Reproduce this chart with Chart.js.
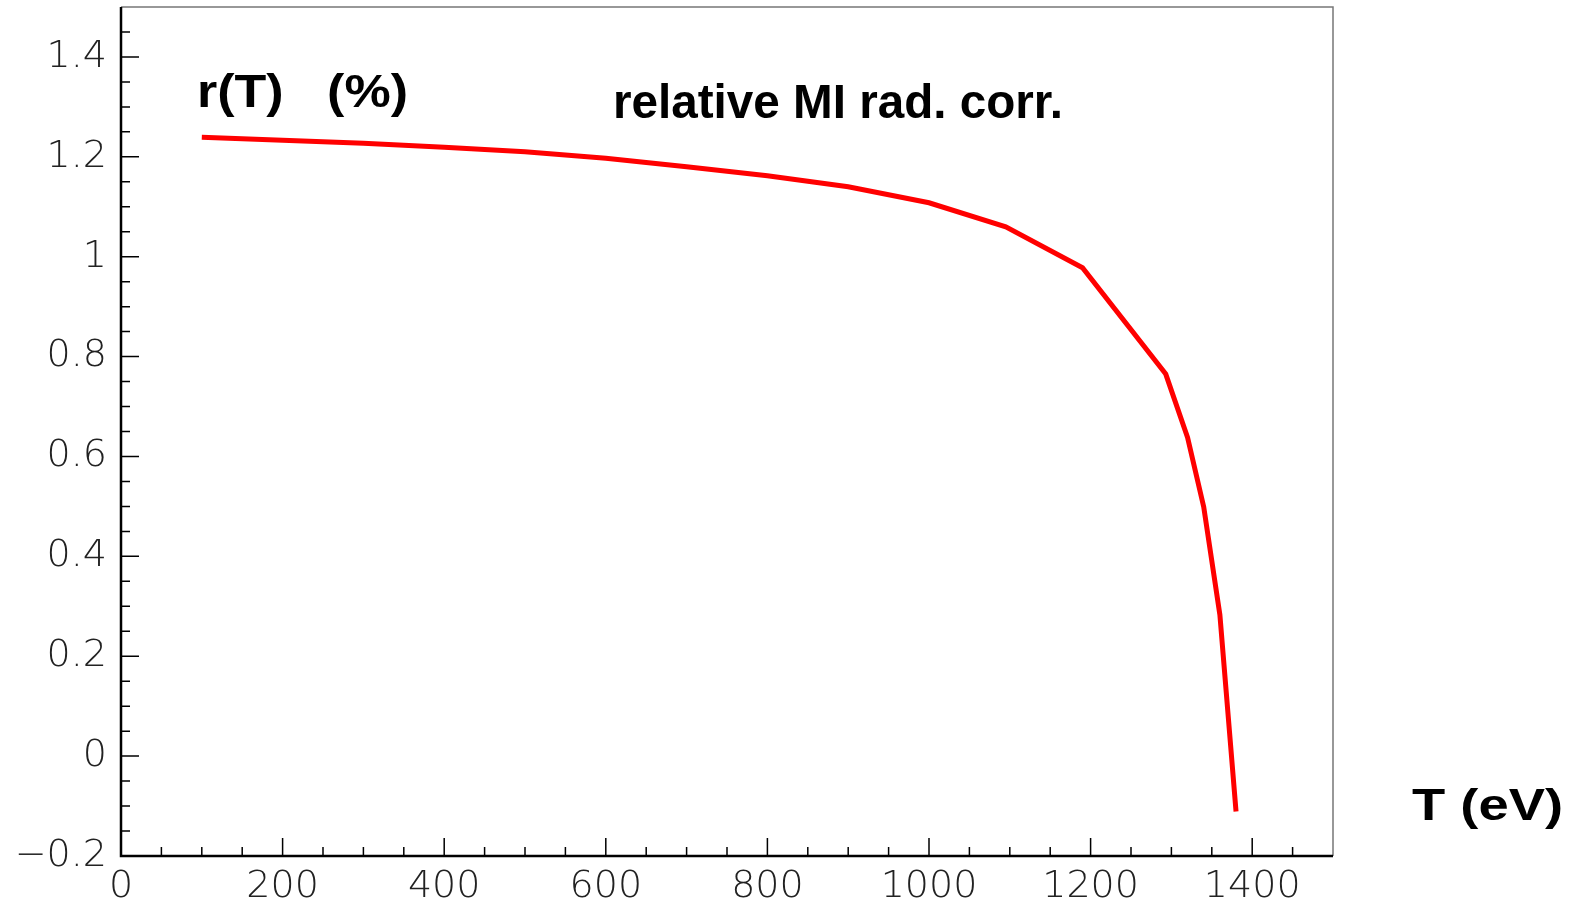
<!DOCTYPE html>
<html>
<head>
<meta charset="utf-8">
<script src="https://cdn.jsdelivr.net/npm/chart.js@4/dist/chart.umd.min.js"></script>
<style>
  html, body { margin: 0; padding: 0; background: #fff; }
  canvas { display: block; }
</style>
</head>
<body>
<canvas id="rc" width="1575" height="900"></canvas>
<script>
// kinetic energy T (eV) and relative radiative correction r(T) (%)
var tValues = [100, 200, 300, 400, 500, 600, 700, 800, 900, 1000, 1095, 1190, 1293, 1320, 1340, 1360, 1380];
var rValues = [1.239, 1.233, 1.227, 1.219, 1.210, 1.197, 1.180, 1.162, 1.140, 1.108, 1.060, 0.978, 0.765, 0.638, 0.499, 0.283, -0.111];

var xLabelEvery = 200;   // labelled x ticks
var yLabelEvery = 0.2;   // labelled y ticks
var yTitle = 'r(T)   (%)';
var xTitle = 'T (eV)';
var plotNote = 'relative MI rad. corr.';

function onStep(v, step) {
    var q = v / step;
    return Math.abs(q - Math.round(q)) < 1e-6;
}

// ROOT style: ticks pointing into the frame, grey top/right edges
var frame = {
    id: 'frame',
    afterDraw: function(chart) {
        var ctx = chart.ctx, a = chart.chartArea;
        var xs = chart.scales.x, ys = chart.scales.y;
        ctx.save();
        ctx.strokeStyle = '#777';
        ctx.lineWidth = 1.5;
        ctx.beginPath();
        ctx.moveTo(a.left, a.top); ctx.lineTo(a.right, a.top); ctx.lineTo(a.right, a.bottom);
        ctx.stroke();

        ctx.strokeStyle = '#000';
        ctx.lineWidth = 1.5;
        ctx.beginPath();
        xs.ticks.forEach(function(t) {
            var px = xs.getPixelForValue(t.value);
            if (px <= a.left + 1 || px >= a.right - 1) return;
            var len = onStep(t.value, xLabelEvery) ? 18 : 9;
            ctx.moveTo(px, a.bottom); ctx.lineTo(px, a.bottom - len);
        });
        ys.ticks.forEach(function(t) {
            var py = ys.getPixelForValue(t.value);
            if (py >= a.bottom - 1 || py <= a.top + 1) return;
            var len = onStep(t.value, yLabelEvery) ? 18 : 9;
            ctx.moveTo(a.left, py); ctx.lineTo(a.left + len, py);
        });
        ctx.stroke();

        ctx.lineWidth = 2.5;
        ctx.beginPath();
        ctx.moveTo(a.left, a.top); ctx.lineTo(a.left, a.bottom); ctx.lineTo(a.right, a.bottom);
        ctx.stroke();
        ctx.restore();
    }
};

// bold captions, stretched sideways like the original picture
function wideText(ctx, txt, x, base, size, width) {
    ctx.font = 'bold ' + size + 'px "Liberation Sans", Arial, sans-serif';
    var w = ctx.measureText(txt).width;
    ctx.save();
    ctx.translate(x, base);
    ctx.scale(width / w, 1);
    ctx.fillStyle = '#000';
    ctx.textBaseline = 'alphabetic';
    ctx.fillText(txt, 0, 0);
    ctx.restore();
}

var captions = {
    id: 'captions',
    afterDraw: function(chart) {
        var ctx = chart.ctx;
        wideText(ctx, yTitle, 197, 107, 46, 211);
        wideText(ctx, plotNote, 613, 118, 48, 450);
        wideText(ctx, xTitle, 1412, 820, 44, 151);
    }
};

new Chart(document.getElementById('rc'), {
    type: 'scatter',
    data: {
        datasets: [{
            data: tValues.map(function(t, i) { return { x: t, y: rValues[i] }; }),
            showLine: true,
            borderColor: '#ff0000',
            borderWidth: 5,
            pointRadius: 0,
            fill: false
        }]
    },
    options: {
        responsive: false,
        animation: false,
        layout: { padding: { top: 7, right: 242, left: 0, bottom: 0 } },
        plugins: { legend: { display: false }, tooltip: { enabled: false } },
        scales: {
            x: {
                type: 'linear', min: 0, max: 1500,
                grid: { display: false, drawTicks: false },
                border: { display: false },
                afterFit: function(s) { s.height = 44; s.paddingLeft = 0; s.paddingRight = 0; },
                ticks: {
                    stepSize: 50, autoSkip: false, maxRotation: 0, padding: 8,
                    color: '#222',
                    font: { family: '"DejaVu Sans", sans-serif', size: 38, weight: 200 },
                    callback: function(v) { return onStep(v, xLabelEvery) ? String(v) : ''; }
                }
            },
            y: {
                min: -0.2, max: 1.5,
                grid: { display: false, drawTicks: false },
                border: { display: false },
                afterFit: function(s) { s.width = 121; s.paddingTop = 0; s.paddingBottom = 0; },
                ticks: {
                    stepSize: 0.05, autoSkip: false, padding: 14,
                    color: '#222',
                    font: { family: '"DejaVu Sans", sans-serif', size: 38, weight: 200 },
                    callback: function(v) {
                        if (!onStep(v, yLabelEvery)) return '';
                        var r = Math.round(v * 10) / 10;
                        return r < 0 ? '\u2212' + String(-r) : String(r);
                    }
                }
            }
        }
    },
    plugins: [frame, captions]
});
</script>
</body>
</html>
